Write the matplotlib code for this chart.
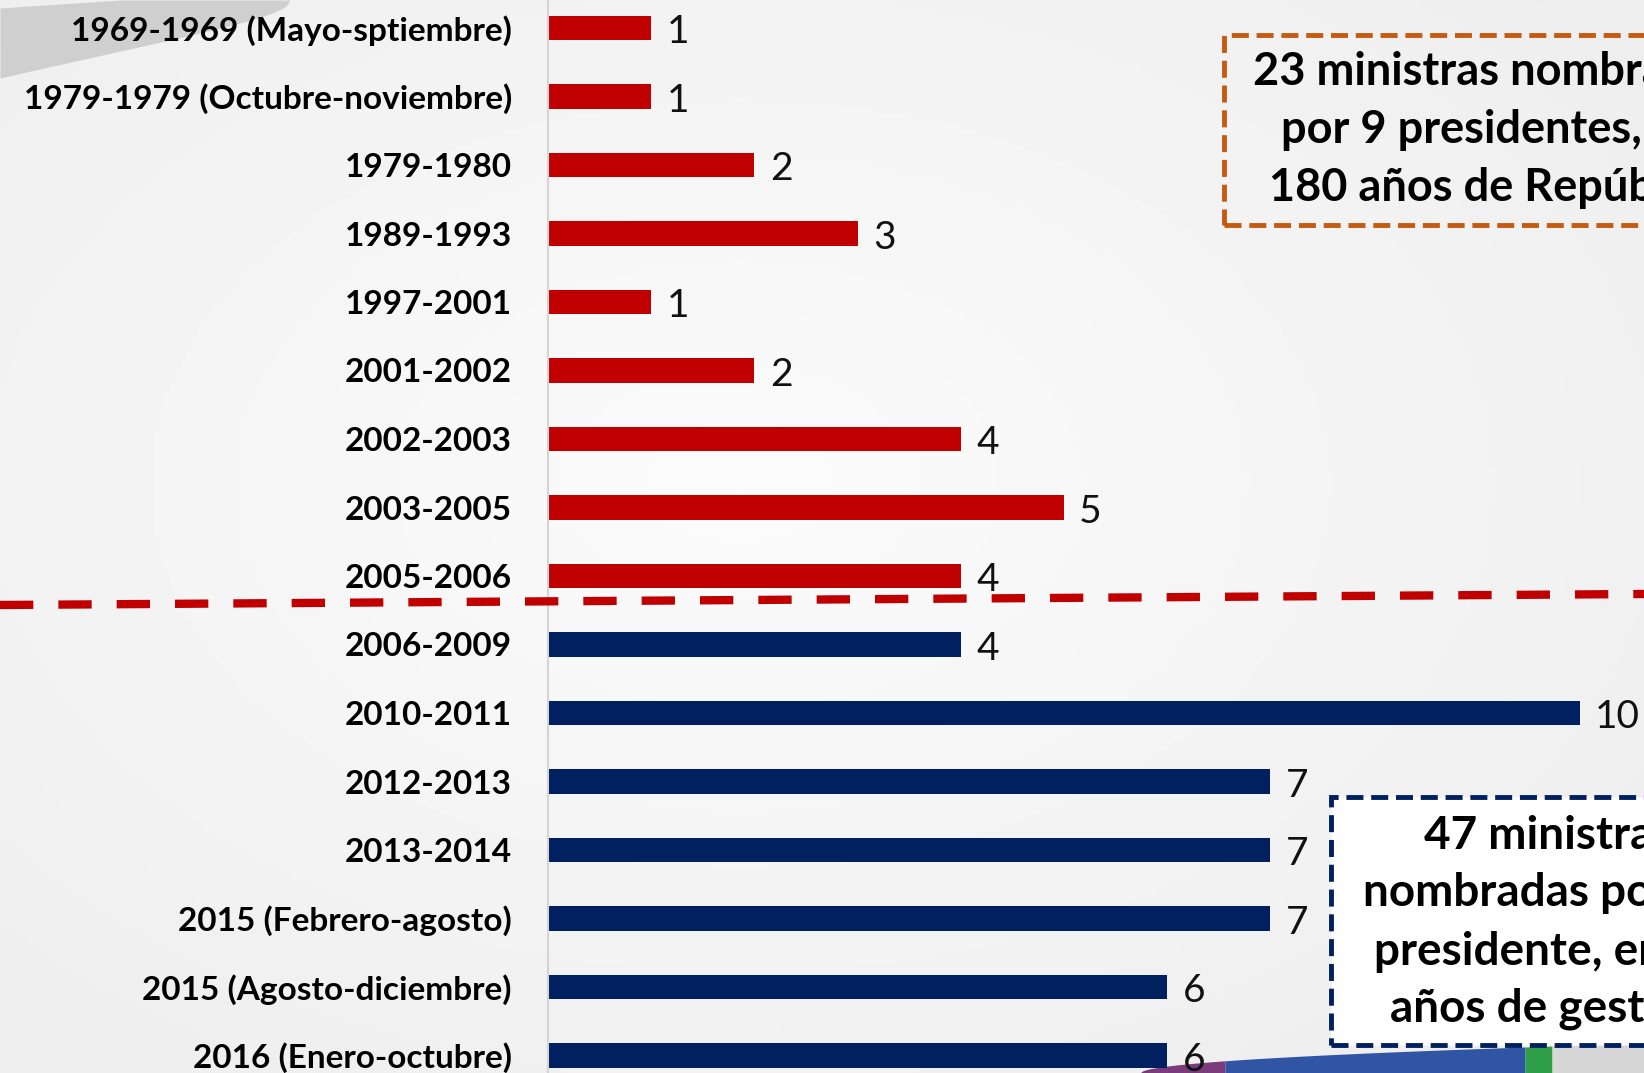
import matplotlib.pyplot as plt
import matplotlib.patches as mpatches
from matplotlib.lines import Line2D
import numpy as np

plt.rcParams['font.family'] = ['Lato', 'DejaVu Sans']

# data
periodos = ["1969-1969 (Mayo-sptiembre)", "1979-1979 (Octubre-noviembre)", "1979-1980",
            "1989-1993", "1997-2001", "2001-2002", "2002-2003", "2003-2005", "2005-2006",
            "2006-2009", "2010-2011", "2012-2013", "2013-2014", "2015 (Febrero-agosto)",
            "2015 (Agosto-diciembre)", "2016 (Enero-octubre)"]
ministras = [1, 1, 2, 3, 1, 2, 4, 5, 4, 4, 10, 7, 7, 7, 6, 6]
n_antes = 9  # periodos antes de 2006

caja1 = ["23 ministras nombradas", "por 9 presidentes, en", "180 años de República"]
caja2 = ["47 ministras", "nombradas por 3", "presidente, en 10", "años de gestión"]

rojo = "#C00000"
azul = "#002060"
naranja = "#C55A11"

W, H = 1644, 1073
fig = plt.figure(figsize=(W / 100, H / 100), dpi=100)

# fondo degradado
bg = fig.add_axes([0, 0, 1, 1])
yy, xx = np.mgrid[0:1:200j, 0:1:300j]
r = np.sqrt(((xx - 0.45) / 0.9) ** 2 + ((yy - 0.45) / 0.9) ** 2)
bg.imshow(0.985 - 0.07 * r, cmap="gray", vmin=0, vmax=1, aspect="auto",
          extent=[0, W, H, 0])
bg.set_xlim(0, W)
bg.set_ylim(H, 0)
bg.axis("off")

# franja gris arriba a la izquierda
sx = np.linspace(0, 290, 80)
arriba = np.clip(8 * (1 - sx / 120), 0, None)
abajo = 78 * np.sqrt(np.clip(1 - sx / 290, 0, None)) * (1 - 0.35 * sx / 290)
bg.fill_between(sx, arriba, abajo, color="#cfcfcf", lw=0)

# franja de colores abajo
def borde(x):
    return 1073 - 26 * np.sqrt(np.clip(x - 1140, 0, None) / 385)

def franja(xa, xb, c):
    xs = np.linspace(xa, xb, 30)
    bg.fill_between(xs, borde(xs), H, color=c, lw=0)

franja(1140, 1225, "#7a3b7a")
franja(1225, 1525, "#2f55a4")
franja(1525, 1552, "#2f9e48")
franja(1552, 1644, "#d6d6d6")

# barras
x0px = 548
unidad = 103.2
fila = 68.5
y0px = 28
ax = fig.add_axes([x0px / W, 0, 1 - x0px / W, 1])
ax.set_xlim(0, (W - x0px) / unidad)
ax.set_ylim((H - y0px) / fila, -y0px / fila)
ax.patch.set_alpha(0)

pos = np.arange(len(periodos))
colores = [rojo if i < n_antes else azul for i in pos]
ax.barh(pos, ministras, height=0.36, color=colores)

for p, v in zip(pos, ministras):
    ax.annotate(str(v), (v, p), xytext=(11, -3), textcoords="offset points",
                ha="left", va="center", fontsize=28, color="#111111")

ax.set_yticks(pos)
ax.set_yticklabels(periodos, fontsize=24, fontweight="bold")
ax.tick_params(axis="y", length=0, pad=26)
ax.set_xticks([])
for s in ["top", "right", "bottom"]:
    ax.spines[s].set_visible(False)
ax.spines["left"].set_color("#d4d4d4")
ax.spines["left"].set_linewidth(1.5)

# linea divisoria
fig.add_artist(Line2D([0, 1], [1 - 605 / H, 1 - 594 / H], transform=fig.transFigure,
                      color=rojo, lw=6, linestyle=(0, (4, 3))))

# cajas de texto
def caja(left, top, bottom, color, fondo):
    rect = mpatches.Rectangle((left / W, 1 - bottom / H), (W + 50 - left) / W, (bottom - top) / H,
                              transform=fig.transFigure, facecolor=fondo, edgecolor=color,
                              lw=3.5, linestyle=(0, (3.5, 1.6)))
    fig.add_artist(rect)

caja(1224, 35, 225, naranja, "none")
caja(1331, 797, 1045, azul, "white")

for txt, xs, ys in zip(caja1, [1253, 1281, 1269], [72, 130, 188]):
    fig.text(xs / W, 1 - ys / H, txt, ha="left", va="center", fontsize=32.5, fontweight="bold")
for txt, xs, ys in zip(caja2, [1424, 1363, 1374, 1390], [836, 893, 952, 1009]):
    fig.text(xs / W, 1 - ys / H, txt, ha="left", va="center", fontsize=33, fontweight="bold")

fig.savefig("out.png", dpi=100)
